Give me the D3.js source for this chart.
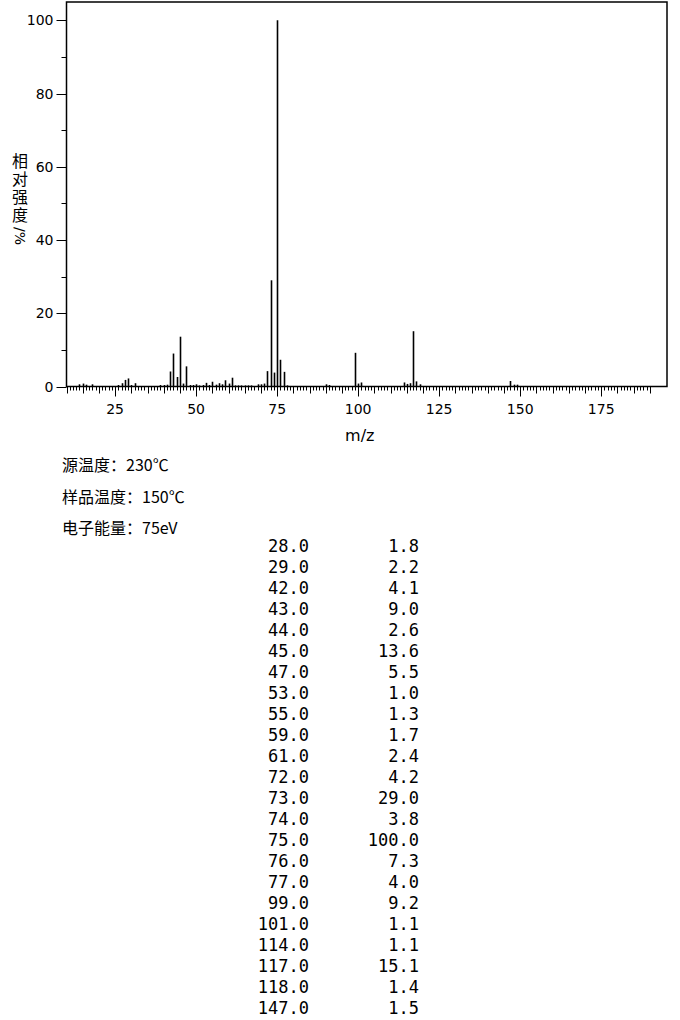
<!DOCTYPE html>
<html>
<head>
<meta charset="utf-8">
<script src="https://cdn.jsdelivr.net/npm/d3@7"></script>
<style>
  body { margin: 0; background: #fff; }
  svg { display: block; }
</style>
</head>
<body>
<div id="container"></div>
<script>
// peaks listed in the table (m/z, relative intensity %)
var tableMz = [28, 29, 42, 43, 44, 45, 47, 53, 55, 59, 61, 72, 73, 74, 75, 76, 77, 99, 101, 114, 117, 118, 147];
var tableInt = [1.8, 2.2, 4.1, 9.0, 2.6, 13.6, 5.5, 1.0, 1.3, 1.7, 2.4, 4.2, 29.0, 3.8, 100.0, 7.3, 4.0, 9.2, 1.1, 1.1, 15.1, 1.4, 1.5];

// small peaks (not in the table)
var minorMz = [14, 15, 16, 18, 26, 27, 30, 31, 39, 40, 41, 46, 48, 49, 50, 51, 52, 54, 56, 57, 58, 60,
               62, 63, 64, 65, 66, 67, 69, 70, 71, 78, 90, 91, 100, 115, 116, 119, 148, 149];
var minorInt = [0.6, 0.8, 0.5, 0.6, 0.4, 0.9, 0.4, 0.9, 0.4, 0.4, 0.5, 0.8, 0.4, 0.4, 0.6, 0.3, 0.4, 0.4, 0.5, 0.9, 0.6, 0.8,
                0.3, 0.3, 0.3, 0.3, 0.3, 0.3, 0.6, 0.6, 0.8, 0.3, 0.6, 0.4, 0.8, 0.7, 0.9, 0.6, 0.5, 0.5];

var xTicks = [25, 50, 75, 100, 125, 150, 175];
var yTicks = [0, 20, 40, 60, 80, 100];
var yTitleChars = ["相", "对", "强", "度"];
var yTitleUnit = "/%";
var infoLines = ["源温度：230℃", "样品温度：150℃", "电子能量：75eV"];

var svgWidth = 680;
var svgHeight = 1020;

var plot = { left: 66.5, right: 667, top: 2, bottom: 386.5 };

var svg = d3.select("#container")
  .append("svg")
  .attr("width", svgWidth)
  .attr("height", svgHeight);

var x = d3.scaleLinear()
  .domain([10, 195.3])
  .range([plot.left, plot.right]);

var y = d3.scaleLinear()
  .domain([0, 105])
  .range([plot.bottom, plot.top]);

var peaks = tableMz.map(function(m, i) { return { mz: m, val: tableInt[i] }; })
  .concat(minorMz.map(function(m, i) { return { mz: m, val: minorInt[i] }; }));

// x minor ticks, every unit
var xMinor = d3.range(10, 191);
svg.append("g")
  .selectAll("line")
  .data(xMinor)
  .enter()
  .append("line")
  .attr("x1", d => Math.round(x(d)) + 0.5)
  .attr("x2", d => Math.round(x(d)) + 0.5)
  .attr("y1", plot.bottom)
  .attr("y2", d => plot.bottom + (d % 25 === 0 ? 10 : d % 5 === 0 ? 7 : 4))
  .attr("stroke", "#000")
  .attr("stroke-width", 1);

// y ticks
var yMinor = d3.range(0, 101, 10);
svg.append("g")
  .selectAll("line")
  .data(yMinor)
  .enter()
  .append("line")
  .attr("x1", d => plot.left - (d % 20 === 0 ? 10 : 5))
  .attr("x2", plot.left)
  .attr("y1", d => Math.round(y(d)) + 0.5)
  .attr("y2", d => Math.round(y(d)) + 0.5)
  .attr("stroke", "#000")
  .attr("stroke-width", 1);

svg.append("g")
  .selectAll("text")
  .data(yTicks)
  .enter()
  .append("text")
  .attr("x", plot.left - 13)
  .attr("y", d => y(d) + 5)
  .attr("text-anchor", "end")
  .style("font-family", "DejaVu Sans, sans-serif")
  .style("font-size", "14px")
  .text(d => d);

svg.append("g")
  .selectAll("text")
  .data(xTicks)
  .enter()
  .append("text")
  .attr("x", d => x(d))
  .attr("y", plot.bottom + 27)
  .attr("text-anchor", "middle")
  .style("font-family", "DejaVu Sans, sans-serif")
  .style("font-size", "14px")
  .text(d => d);

// peaks
svg.append("g")
  .selectAll("line")
  .data(peaks)
  .enter()
  .append("line")
  .attr("x1", d => Math.round(x(d.mz)) + 0.5)
  .attr("x2", d => Math.round(x(d.mz)) + 0.5)
  .attr("y1", plot.bottom)
  .attr("y2", d => y(d.val))
  .attr("stroke", "#000")
  .attr("stroke-width", 1.6);

// frame
svg.append("rect")
  .attr("x", plot.left)
  .attr("y", plot.top)
  .attr("width", plot.right - plot.left)
  .attr("height", plot.bottom - plot.top)
  .attr("fill", "none")
  .attr("stroke", "#000")
  .attr("stroke-width", 1.5);

// axis titles
svg.append("text")
  .attr("x", x(100.5))
  .attr("y", 441)
  .attr("text-anchor", "middle")
  .style("font-family", "DejaVu Sans, sans-serif")
  .style("font-size", "16px")
  .text("m/z");

// vertical y title: a single text, each glyph given its own x/y
svg.append("text")
  .attr("x", yTitleChars.map(() => 20).join(" "))
  .attr("y", yTitleChars.map((d, i) => 167 + i * 18).join(" "))
  .attr("text-anchor", "middle")
  .style("font-family", "Noto Sans CJK SC, sans-serif")
  .style("font-size", "16px")
  .text(yTitleChars.join(""));

svg.append("text")
  .attr("transform", "translate(20, 227) rotate(90)")
  .attr("dominant-baseline", "central")
  .style("font-family", "DejaVu Sans, sans-serif")
  .style("font-size", "14px")
  .text(yTitleUnit);

// info lines
svg.append("g")
  .selectAll("text")
  .data(infoLines)
  .enter()
  .append("text")
  .attr("x", 62)
  .attr("y", (d, i) => 471 + i * 31.5)
  .style("font-family", "Noto Sans CJK SC, sans-serif")
  .style("font-size", "16px")
  .text(d => d);

// peak table
var rows = svg.append("g")
  .style("font-family", "DejaVu Sans Mono, monospace")
  .style("font-size", "17px");

rows.selectAll("text.mz")
  .data(tableMz)
  .enter()
  .append("text")
  .attr("class", "mz")
  .attr("x", 309)
  .attr("y", (d, i) => 552 + i * 21)
  .attr("text-anchor", "end")
  .text(d => d.toFixed(1));

rows.selectAll("text.val")
  .data(tableInt)
  .enter()
  .append("text")
  .attr("class", "val")
  .attr("x", 419)
  .attr("y", (d, i) => 552 + i * 21)
  .attr("text-anchor", "end")
  .text(d => d.toFixed(1));
</script>
</body>
</html>
